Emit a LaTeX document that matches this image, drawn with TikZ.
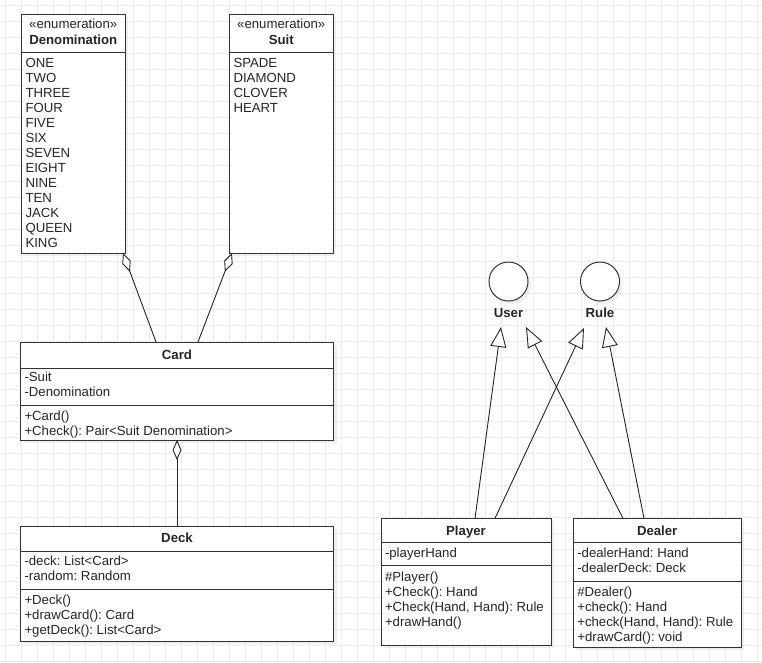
\documentclass[tikz,border=0pt]{standalone}
\usepackage{fontspec}
\setmainfont{Liberation Sans}
\usetikzlibrary{arrows.meta,shadows}
\frenchspacing

\begin{document}
\begin{tikzpicture}[x=1pt,y=-1pt,
  every node/.style={inner sep=0pt, outer sep=0pt},
  gridline/.style={draw=black!7, line width=0.6pt},
  box/.style={draw=black!80, line width=1pt, fill=white, anchor=north west,
    drop shadow={shadow xshift=3pt, shadow yshift=-3pt, opacity=.12}},
  sep/.style={draw=black!80, line width=1pt},
  item/.style={anchor=base west, font=\fontsize{13.2}{15}\selectfont, text=black!85},
  title/.style={anchor=base, font=\fontsize{13.2}{15}\selectfont\bfseries, text=black!85},
  stereo/.style={anchor=base, font=\fontsize{13.2}{15}\selectfont, text=black!85},
  iface/.style={circle, draw=black!80, line width=1pt, fill=white, minimum size=39pt,
    drop shadow={shadow xshift=3pt, shadow yshift=-3pt, opacity=.12}},
  agg/.style={draw=black!85, line width=0.9pt, {Diamond[open, fill=white, length=20pt, width=9pt]}-},
  real/.style={draw=black!85, line width=0.9pt, -{Triangle[open, fill=white, length=20pt, width=16pt]}}]
\useasboundingbox[fill=white] (0,0) rectangle (762,662);
\foreach \gx in {5,21,...,757} \draw[gridline] (\gx,0) -- (\gx,662);
\foreach \gy in {5.5,21.5,...,661.5} \draw[gridline] (0,\gy) -- (762,\gy);

\node[box, minimum width=103.5pt, minimum height=239pt] (den) at (21.5,14) {};
\draw[sep] ([yshift=-38pt]den.north west) -- ([yshift=-38pt]den.north east);
\node[stereo] (denst) at (73.25,28.3) {«enumeration»};
\node[title] (dent) at (73.25,44) {Denomination};
\node[item] (den1) at (25.5,67) {ONE};
\node[item] (den2) at (25.5,82) {TWO};
\node[item] (den3) at (25.5,97) {THREE};
\node[item] (den4) at (25.5,112) {FOUR};
\node[item] (den5) at (25.5,127) {FIVE};
\node[item] (den6) at (25.5,142) {SIX};
\node[item] (den7) at (25.5,157) {SEVEN};
\node[item] (den8) at (25.5,172) {EIGHT};
\node[item] (den9) at (25.5,187) {NINE};
\node[item] (den10) at (25.5,202) {TEN};
\node[item] (den11) at (25.5,217) {JACK};
\node[item] (den12) at (25.5,232) {QUEEN};
\node[item] (den13) at (25.5,247) {KING};

\node[box, minimum width=103.5pt, minimum height=239pt] (suit) at (229.5,14) {};
\draw[sep] ([yshift=-38pt]suit.north west) -- ([yshift=-38pt]suit.north east);
\node[stereo] (suitst) at (281.25,28.3) {«enumeration»};
\node[title] (suitt) at (281.25,44) {Suit};
\node[item] (suit1) at (233.5,67) {SPADE};
\node[item] (suit2) at (233.5,82) {DIAMOND};
\node[item] (suit3) at (233.5,97) {CLOVER};
\node[item] (suit4) at (233.5,112) {HEART};

\node[box, minimum width=313pt, minimum height=98pt] (card) at (20.5,342) {};
\draw[sep] ([yshift=-26pt]card.north west) -- ([yshift=-26pt]card.north east);
\draw[sep] ([yshift=-63.3pt]card.north west) -- ([yshift=-63.3pt]card.north east);
\node[title] (cardt) at (177,359) {Card};
\node[item] (card1) at (24.5,381.7) {-Suit};
\node[item] (card2) at (24.5,396.7) {-Denomination};
\node[item] (card3) at (24.5,420) {+Card()};
\node[item] (card4) at (24.5,435) {+Check(): Pair<Suit Denomination>};

\node[box, minimum width=313pt, minimum height=115pt] (deck) at (20.5,526) {};
\draw[sep] ([yshift=-25pt]deck.north west) -- ([yshift=-25pt]deck.north east);
\draw[sep] ([yshift=-63.3pt]deck.north west) -- ([yshift=-63.3pt]deck.north east);
\node[title] (deckt) at (177,542.7) {Deck};
\node[item] (deck1) at (24.5,565.7) {-deck: List<Card>};
\node[item] (deck2) at (24.5,580.7) {-random: Random};
\node[item] (deck3) at (24.5,604.3) {+Deck()};
\node[item] (deck4) at (24.5,619.3) {+drawCard(): Card};
\node[item] (deck5) at (24.5,634.3) {+getDeck(): List<Card>};

\node[box, minimum width=170pt, minimum height=126.7pt] (player) at (381,518.3) {};
\draw[sep] ([yshift=-24.4pt]player.north west) -- ([yshift=-24.4pt]player.north east);
\draw[sep] ([yshift=-47.4pt]player.north west) -- ([yshift=-47.4pt]player.north east);
\node[title] (playert) at (466,535) {Player};
\node[item] (player1) at (385,557.7) {-playerHand};
\node[item] (player2) at (385,581.7) {\#Player()};
\node[item] (player3) at (385,596.7) {+Check(): Hand};
\node[item] (player4) at (385,611.7) {+Check(Hand, Hand): Rule};
\node[item] (player5) at (385,626.7) {+drawHand()};

\node[box, minimum width=167.7pt, minimum height=128.7pt] (dealer) at (573.3,518.3) {};
\draw[sep] ([yshift=-24.4pt]dealer.north west) -- ([yshift=-24.4pt]dealer.north east);
\draw[sep] ([yshift=-62.7pt]dealer.north west) -- ([yshift=-62.7pt]dealer.north east);
\node[title] (dealert) at (657.2,535) {Dealer};
\node[item] (dealer1) at (577.3,557.7) {-dealerHand: Hand};
\node[item] (dealer2) at (577.3,572.7) {-dealerDeck: Deck};
\node[item] (dealer3) at (577.3,596) {\#Dealer()};
\node[item] (dealer4) at (577.3,611) {+check(): Hand};
\node[item] (dealer5) at (577.3,626) {+check(Hand, Hand): Rule};
\node[item] (dealer6) at (577.3,641) {+drawCard(): void};

\node[iface] (user) at (508.5,281.5) {};
\node[title] (userl) at (508.5,317) {User};
\node[iface] (rule) at (600,281.5) {};
\node[title] (rulel) at (600,317) {Rule};

\coordinate (denA) at ([xshift=-2pt]den.south east);
\coordinate (suitA) at ([xshift=2.5pt]suit.south west);
\coordinate (cardA) at ([xshift=-21pt]card.north);
\coordinate (cardB) at ([xshift=21pt]card.north);
\draw[agg] (denA) -- (cardA);
\draw[agg] (suitA) -- (cardB);
\draw[agg] (card.south) -- (deck.north);

\coordinate (userA) at ([shift={(-7.5pt,-10pt)}]userl.base);
\coordinate (userB) at ([shift={(17.5pt,-10pt)}]userl.base);
\coordinate (ruleA) at ([shift={(-16pt,-11pt)}]rulel.base);
\coordinate (ruleB) at ([shift={(6pt,-10pt)}]rulel.base);
\draw[real] ([xshift=9pt]player.north) -- (userA);
\draw[real] ([xshift=29pt]player.north) -- (ruleA);
\draw[real] ([xshift=-34.2pt]dealer.north) -- (userB);
\draw[real] ([xshift=-13.2pt]dealer.north) -- (ruleB);
\end{tikzpicture}
\end{document}
